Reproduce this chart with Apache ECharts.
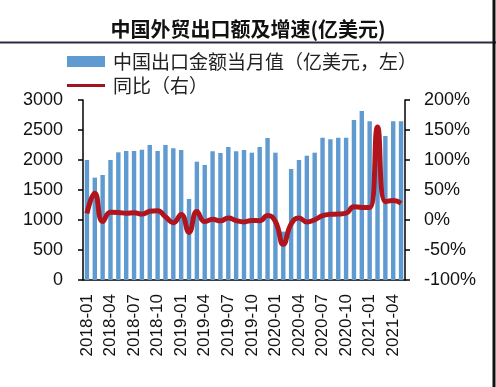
<!DOCTYPE html>
<html>
<head>
<meta charset="utf-8">
<script src="https://cdn.jsdelivr.net/npm/echarts@6/dist/echarts.min.js"></script>
<style>
html,body{margin:0;padding:0;background:#fff;}
#main{width:496px;height:387px;}
</style>
</head>
<body>
<div id="main"></div>
<script>
const categories = [
  '2018-01','2018-02','2018-03','2018-04','2018-05','2018-06','2018-07','2018-08','2018-09','2018-10','2018-11','2018-12',
  '2019-01','2019-02','2019-03','2019-04','2019-05','2019-06','2019-07','2019-08','2019-09','2019-10','2019-11','2019-12',
  '2020-01','2020-02','2020-03','2020-04','2020-05','2020-06','2020-07','2020-08','2020-09','2020-10','2020-11','2020-12',
  '2021-01','2021-02','2021-03','2021-04','2021-05'
];
const exportValues = [
  2000,1706,1750,2000,2128,2150,2150,2172,2250,2150,2250,2194,
  2167,1350,1972,1917,2144,2117,2217,2144,2167,2122,2217,2367,
  2122,806,1850,2000,2072,2122,2372,2344,2372,2372,2667,2817,
  2644,2056,2400,2644,2644
];
const yoyValues = [
  10.7,44.5,-2.7,12.9,12.6,11.3,12.2,9.8,14.5,15.6,5.4,-4.4,
  9.1,-20.7,14.2,-2.7,1.1,-1.3,3.3,-1.0,-3.2,-0.9,-1.1,7.6,
  -2.5,-40.4,-6.6,3.5,-3.3,0.5,7.2,9.5,9.9,11.4,22.0,21.0,
  21.0,155.0,30.6,32.3,27.9
];
const leftTicks = [0, 3000, 500];
const rightTicks = [-100, 200, 50];
const barName = '中国出口金额当月值（亿美元，左）';
const lineName = '同比（右）';
const titleText = '中国外贸出口额及增速(亿美元)';

const chart = echarts.init(document.getElementById('main'), null, {renderer: 'canvas'});
const axisFont = 'Liberation Sans, Arial, sans-serif';
const legendText = {fontFamily: 'Noto Sans CJK SC', fontSize: 19, color: '#222', padding: [0, 0, 0, 3]};
chart.setOption({
  animation: false,
  backgroundColor: '#ffffff',
  title: {
    text: titleText,
    left: 'center',
    top: 14,
    textStyle: {fontFamily: 'Noto Sans CJK SC', fontWeight: 'bold', fontSize: 20, color: '#111'}
  },
  graphic: [
    {type: 'line', shape: {x1: 0, y1: 42.5, x2: 496, y2: 42.5}, style: {stroke: '#2b2b3f', lineWidth: 2}},
    {type: 'line', shape: {x1: 494, y1: 0, x2: 494, y2: 387}, style: {stroke: '#111', lineWidth: 3}}
  ],
  legend: [
    {
      left: 62, top: 47,
      itemWidth: 38, itemHeight: 11,
      textStyle: legendText,
      data: [{name: barName, icon: 'rect'}]
    },
    {
      left: 62, top: 71,
      itemWidth: 38, itemHeight: 3,
      textStyle: legendText,
      data: [{name: lineName, icon: 'rect', itemStyle: {color: '#a0141b'}}]
    }
  ],
  grid: {left: 83, right: 91, top: 100, bottom: 107},
  xAxis: {
    type: 'category',
    data: categories,
    boundaryGap: true,
    axisLine: {lineStyle: {color: '#000', width: 1.5}},
    axisTick: {interval: 2, length: 5, lineStyle: {color: '#000', width: 1.5}},
    axisLabel: {interval: 2, rotate: 90, margin: 14, fontFamily: axisFont, fontSize: 17, color: '#111'}
  },
  yAxis: [
    {
      type: 'value', min: leftTicks[0], max: leftTicks[1], interval: leftTicks[2],
      axisLine: {show: true, lineStyle: {color: '#000', width: 1.5}},
      axisTick: {show: true, length: 5, lineStyle: {color: '#000', width: 1.5}},
      splitLine: {show: false},
      axisLabel: {margin: 20, fontFamily: axisFont, fontSize: 18, color: '#111', formatter: function (v) { return String(v); }}
    },
    {
      type: 'value', min: rightTicks[0], max: rightTicks[1], interval: rightTicks[2],
      axisLine: {show: true, lineStyle: {color: '#000', width: 1.5}},
      axisTick: {show: true, length: 5, lineStyle: {color: '#000', width: 1.5}},
      splitLine: {show: false},
      axisLabel: {margin: 19, fontFamily: axisFont, fontSize: 18, color: '#111', formatter: '{value}%'}
    }
  ],
  series: [
    {
      name: barName, type: 'bar', data: exportValues, yAxisIndex: 0,
      barWidth: '56%', itemStyle: {color: '#5f9bd0'}
    },
    {
      name: lineName, type: 'line', data: yoyValues, yAxisIndex: 1,
      smooth: 0.5, symbol: 'none', showSymbol: false,
      lineStyle: {color: '#b0151d', width: 5}, itemStyle: {color: '#b0151d'}
    }
  ]
});
</script>
</body>
</html>
